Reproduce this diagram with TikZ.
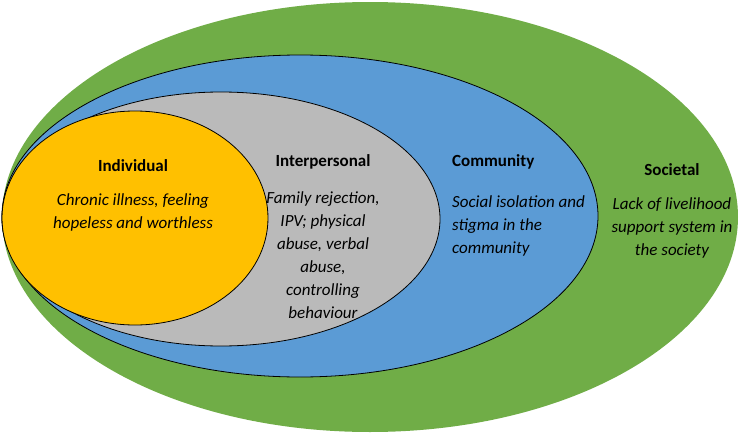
\documentclass[tikz,border=0pt]{standalone}
\usepackage{fontspec}
\setmainfont{Carlito}
\usetikzlibrary{shapes.geometric}
\definecolor{socgreen}{RGB}{112,173,71}
\definecolor{comblue}{RGB}{91,155,213}
\definecolor{intgray}{RGB}{186,186,186}
\definecolor{indyellow}{RGB}{255,192,0}

\begin{document}
\begin{tikzpicture}[x=1pt, y=-1pt,
  ring/.style={ellipse, draw=black, line width=0.8pt, inner sep=0pt},
  head/.style={font=\fontsize{17}{23}\selectfont\bfseries},
  desc/.style={font=\fontsize{17}{23}\selectfont\itshape, align=center, inner sep=0pt}]
\useasboundingbox (0,0) rectangle (740,434);
% nested levels, outside in
\node[ring, draw=none, fill=socgreen, minimum width=736pt, minimum height=430pt] (societal) at (370,217) {};
\node[ring, fill=comblue, minimum width=596pt, minimum height=322pt] (community) at (300,216) {};
\node[ring, fill=intgray, minimum width=438pt, minimum height=254pt] (interpersonal) at (221,219) {};
\node[ring, fill=indyellow, minimum width=266pt, minimum height=214pt] (individual) at (135,218) {};
% labels
\node[head] (indhead) at (133,166) {Individual};
\node[desc] (indtext) at (133,212) {Chronic illness, feeling\\hopeless and worthless};
\node[head] (inthead) at (323,162) {Interpersonal};
\node[desc] (inttext) at (323,255) {Family rejection,\\IPV; physical\\abuse, verbal\\abuse,\\controlling\\behaviour};
\node[head, anchor=west, inner sep=0pt] (comhead) at (452,162) {Community};
\node[desc, anchor=west, align=left] (comtext) at (452,226) {Social isolation and\\stigma in the\\community};
\node[head] (sochead) at (672,170) {Societal};
\node[desc] (soctext) at (672,228) {Lack of livelihood\\support system in\\the society};
\end{tikzpicture}
\end{document}
